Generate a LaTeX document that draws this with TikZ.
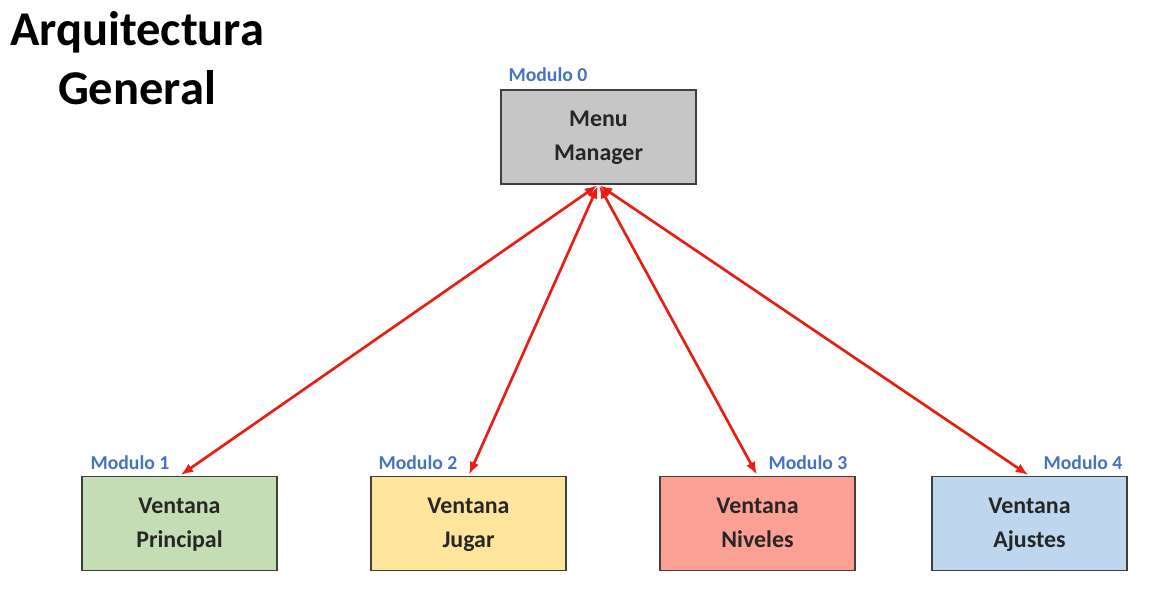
\documentclass[tikz,border=0pt]{standalone}
\usepackage{fontspec}
\setmainfont{Carlito}
\usepackage{tikz}
\usetikzlibrary{arrows.meta}
\definecolor{grisbox}{RGB}{198,198,198}
\definecolor{verdebox}{RGB}{197,221,180}
\definecolor{amarillobox}{RGB}{255,229,155}
\definecolor{rojobox}{RGB}{252,160,150}
\definecolor{azulbox}{RGB}{190,214,238}
\definecolor{azulmod}{RGB}{70,114,196}
\definecolor{flecha}{RGB}{232,30,20}

\begin{document}
\begin{tikzpicture}[x=0.025cm,y=-0.025cm,
  caja/.style={draw=black!75,line width=0.9pt,minimum width=195*0.025cm,minimum height=94*0.025cm,
    align=center,font=\fontsize{17}{24}\selectfont\bfseries,text=black!85},
  modulo/.style={font=\fontsize{14}{16}\selectfont\bfseries,text=azulmod},
  enlace/.style={{Latex[length=9pt,width=7pt]}-{Latex[length=9pt,width=7pt]},draw=flecha,line width=1.9pt,shorten <=1pt,shorten >=1pt}]
\useasboundingbox (0,0) rectangle (1156,609);
\node[font=\fontsize{34.5}{42}\selectfont\bfseries,align=center] (titulo) at (137,58) {Arquitectura\\General};
\node[caja,fill=grisbox] (menu) at (598.5,137) {\strut Menu\\Manager\strut};
\node[caja,fill=verdebox] (principal) at (179.5,523.5) {\strut Ventana\\Principal\strut};
\node[caja,fill=amarillobox] (jugar) at (468.5,523.5) {\strut Ventana\\Jugar\strut};
\node[caja,fill=rojobox] (niveles) at (757.5,523.5) {\strut Ventana\\Niveles\strut};
\node[caja,fill=azulbox] (ajustes) at (1029.5,523.5) {\strut Ventana\\Ajustes\strut};
\node[modulo] (m0) at (548,75) {Modulo 0};
\node[modulo] (m1) at (130,463) {Modulo 1};
\node[modulo] (m2) at (418,463) {Modulo 2};
\node[modulo] (m3) at (808,463) {Modulo 3};
\node[modulo] (m4) at (1083,463) {Modulo 4};
\draw[enlace] (menu.south) -- (principal.north);
\draw[enlace] (menu.south) -- (jugar.north);
\draw[enlace] (menu.south) -- (niveles.north);
\draw[enlace] (menu.south) -- (ajustes.north);
\end{tikzpicture}
\end{document}
